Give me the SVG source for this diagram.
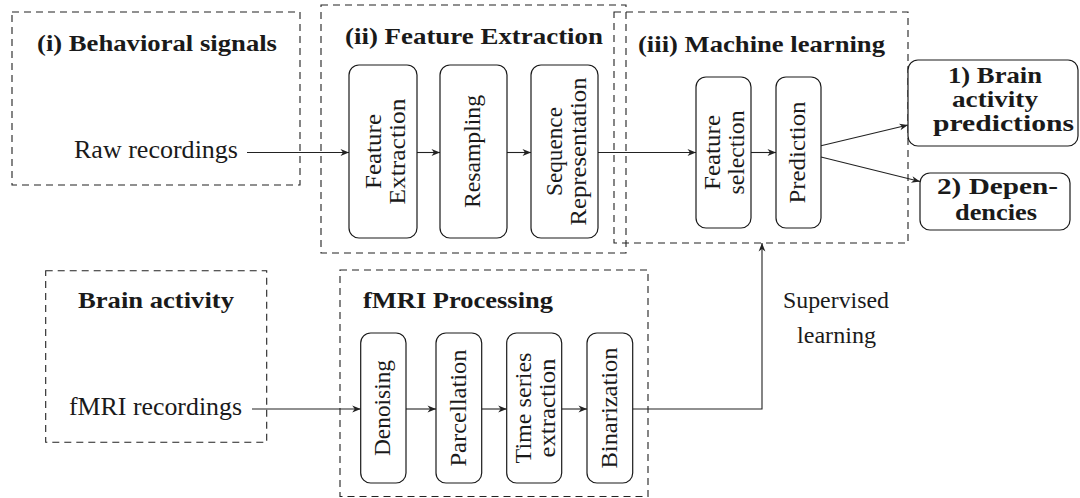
<svg xmlns="http://www.w3.org/2000/svg" width="1080" height="498" viewBox="0 0 1080 498">
<style>
.dash{fill:none;stroke:#222;stroke-width:1.1;stroke-dasharray:7 5}
.box{fill:#fff;stroke:#1a1a1a;stroke-width:1.2}
.t{font-family:"Liberation Serif","Times New Roman",serif;font-size:23px;fill:#1a1a1a}
.big{font-size:25px}
.b{font-weight:bold}
.m{text-anchor:middle}
.con{fill:none;stroke:#222;stroke-width:1.1}
</style>
<defs>
<marker id="arr" viewBox="-9 -5 10 10" refX="0" refY="0" markerWidth="10" markerHeight="10" orient="auto" markerUnits="userSpaceOnUse">
<path d="M0,0 L-8.5,-3.4 L-6,0 L-8.5,3.4 Z" fill="#222"/>
</marker>
</defs>
<rect width="1080" height="498" fill="#fff"/>

<g id="stage-behavioral">
<rect class="dash" x="12" y="12" width="288" height="173"/>
<text class="t b m" x="157" y="51" textLength="240" lengthAdjust="spacingAndGlyphs">(i) Behavioral signals</text>
<text class="t big" x="74" y="158" textLength="164" lengthAdjust="spacingAndGlyphs">Raw recordings</text>
</g>

<g id="stage-feature-extraction">
<rect class="dash" x="321" y="5" width="305" height="248"/>
<text class="t b m" x="474" y="44" textLength="258" lengthAdjust="spacingAndGlyphs">(ii) Feature Extraction</text>
</g>

<g id="stage-ml">
<rect class="dash" x="614" y="12" width="294" height="231"/>
<text class="t b m" x="761.5" y="52" textLength="247" lengthAdjust="spacingAndGlyphs">(iii) Machine learning</text>
</g>

<g id="stage-brain">
<rect class="dash" x="45.7" y="270.7" width="221" height="171.6"/>
<text class="t b m" x="156" y="308" textLength="156" lengthAdjust="spacingAndGlyphs">Brain activity</text>
<text class="t big" x="69" y="415" textLength="173" lengthAdjust="spacingAndGlyphs">fMRI recordings</text>
</g>

<g id="stage-fmri">
<rect class="dash" x="340" y="270" width="308" height="226.5"/>
<text class="t b" x="363" y="308" textLength="190" lengthAdjust="spacingAndGlyphs">fMRI Processing</text>
</g>

<g id="connectors">
<line class="con" x1="247" y1="152.5" x2="349" y2="152.5" marker-end="url(#arr)"/>
<line class="con" x1="417" y1="152.5" x2="440" y2="152.5" marker-end="url(#arr)"/>
<line class="con" x1="507" y1="152.5" x2="531" y2="152.5" marker-end="url(#arr)"/>
<line class="con" x1="598" y1="152.5" x2="696" y2="152.5" marker-end="url(#arr)"/>
<line class="con" x1="751" y1="152.5" x2="776" y2="152.5" marker-end="url(#arr)"/>
<line class="con" x1="821" y1="145.7" x2="908" y2="125" marker-end="url(#arr)"/>
<line class="con" x1="821" y1="157" x2="920" y2="181.5" marker-end="url(#arr)"/>
<line class="con" x1="252" y1="409" x2="360.7" y2="409" marker-end="url(#arr)"/>
<line class="con" x1="406" y1="409" x2="436" y2="409" marker-end="url(#arr)"/>
<line class="con" x1="481.7" y1="409" x2="506.7" y2="409" marker-end="url(#arr)"/>
<line class="con" x1="561.7" y1="409" x2="587" y2="409" marker-end="url(#arr)"/>
<polyline class="con" points="632.7,409 762,409 762,243" marker-end="url(#arr)"/>
<text class="t" x="783" y="308" textLength="106" lengthAdjust="spacingAndGlyphs">Supervised</text>
<text class="t" x="797" y="343" textLength="79" lengthAdjust="spacingAndGlyphs">learning</text>
</g>

<g id="node-feature-extraction">
<rect class="box" x="349" y="65" width="68" height="173" rx="10"/>
<text class="t m" transform="translate(381,151.5) rotate(-90)" textLength="75" lengthAdjust="spacingAndGlyphs">Feature</text>
<text class="t m" transform="translate(405,151.5) rotate(-90)" textLength="106" lengthAdjust="spacingAndGlyphs">Extraction</text>
</g>
<g id="node-resampling">
<rect class="box" x="440" y="65" width="67" height="173" rx="10"/>
<text class="t m" transform="translate(480,151.5) rotate(-90)" textLength="113" lengthAdjust="spacingAndGlyphs">Resampling</text>
</g>
<g id="node-sequence-representation">
<rect class="box" x="531" y="65" width="67" height="173" rx="10"/>
<text class="t m" transform="translate(561.5,151.5) rotate(-90)" textLength="89" lengthAdjust="spacingAndGlyphs">Sequence</text>
<text class="t m" transform="translate(586,151.5) rotate(-90)" textLength="148" lengthAdjust="spacingAndGlyphs">Representation</text>
</g>
<g id="node-feature-selection">
<rect class="box" x="696" y="77" width="55" height="151" rx="10"/>
<text class="t m" transform="translate(720,152.5) rotate(-90)" textLength="75" lengthAdjust="spacingAndGlyphs">Feature</text>
<text class="t m" transform="translate(744,152.5) rotate(-90)" textLength="84" lengthAdjust="spacingAndGlyphs">selection</text>
</g>
<g id="node-prediction">
<rect class="box" x="776" y="77" width="45" height="151" rx="10"/>
<text class="t m" transform="translate(805,152.5) rotate(-90)" textLength="102" lengthAdjust="spacingAndGlyphs">Prediction</text>
</g>
<g id="node-out-predictions">
<rect class="box" x="908" y="60" width="170" height="86" rx="10"/>
<text class="t b m" x="995" y="83" textLength="94" lengthAdjust="spacingAndGlyphs">1) Brain</text>
<text class="t b m" x="995" y="107" textLength="86" lengthAdjust="spacingAndGlyphs">activity</text>
<text class="t b m" x="1003.5" y="131" textLength="141" lengthAdjust="spacingAndGlyphs">predictions</text>
</g>
<g id="node-out-dependencies">
<rect class="box" x="920" y="173" width="150" height="57" rx="10"/>
<text class="t b m" x="997.5" y="194" textLength="121" lengthAdjust="spacingAndGlyphs">2) Depen-</text>
<text class="t b m" x="996" y="220" textLength="82" lengthAdjust="spacingAndGlyphs">dencies</text>
</g>
<g id="node-denoising">
<rect class="box" x="360.7" y="333" width="45.3" height="150" rx="10"/>
<text class="t m" transform="translate(390,408) rotate(-90)" textLength="96" lengthAdjust="spacingAndGlyphs">Denoising</text>
</g>
<g id="node-parcellation">
<rect class="box" x="436" y="333" width="45.7" height="150" rx="10"/>
<text class="t m" transform="translate(465.5,408) rotate(-90)" textLength="117" lengthAdjust="spacingAndGlyphs">Parcellation</text>
</g>
<g id="node-time-series">
<rect class="box" x="506.7" y="333" width="55" height="150" rx="10"/>
<text class="t m" transform="translate(531,408) rotate(-90)" textLength="111" lengthAdjust="spacingAndGlyphs">Time series</text>
<text class="t m" transform="translate(555,408) rotate(-90)" textLength="99" lengthAdjust="spacingAndGlyphs">extraction</text>
</g>
<g id="node-binarization">
<rect class="box" x="587" y="333" width="45.7" height="150" rx="10"/>
<text class="t m" transform="translate(616.5,408) rotate(-90)" textLength="121" lengthAdjust="spacingAndGlyphs">Binarization</text>
</g>
</svg>
